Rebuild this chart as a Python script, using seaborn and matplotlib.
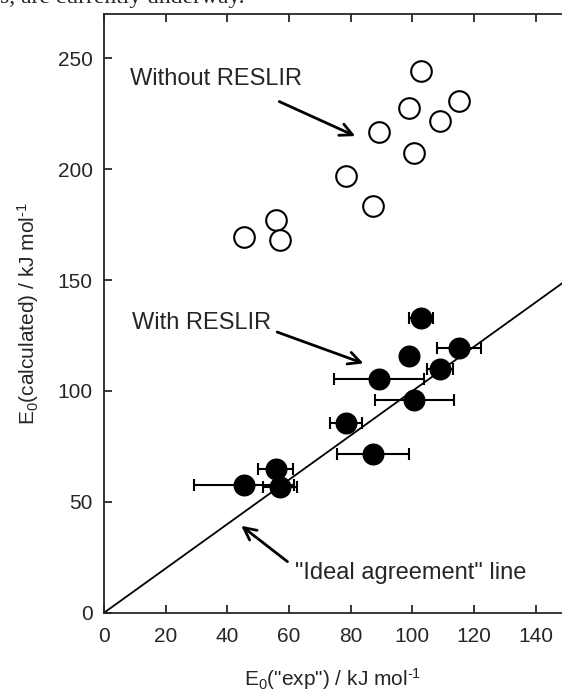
import numpy as np
import pandas as pd
import matplotlib.pyplot as plt
import seaborn as sns

# experimental E0 values (shared by both series)
e0_exp = [45.3, 55.7, 57.1, 78.5, 87.2, 89.1, 98.8, 100.6, 102.9, 109.0, 115.1]
# calculated without RESLIR
e0_without = [169.4, 176.9, 168.1, 196.9, 183.4, 216.8, 227.6, 207.3, 244.4, 221.6, 230.9]
# calculated with RESLIR
e0_with = [57.8, 65.0, 56.5, 85.4, 71.8, 105.3, 115.8, 95.9, 132.7, 110.1, 119.4]
# error on experimental value
e0_err = [16.2, 5.7, 5.4, 5.1, 11.7, 14.6, 2.0, 12.8, 3.9, 4.3, 7.0]
# ideal agreement line
ideal = [0, 150]

df = pd.DataFrame({"exp": e0_exp, "without": e0_without, "with": e0_with, "err": e0_err})

sns.set_style("ticks")
plt.rcParams["font.family"] = ["Liberation Sans", "DejaVu Sans"]
plt.rcParams["mathtext.default"] = "regular"

fig = plt.figure(figsize=(5.62, 6.94), dpi=100)
ax = fig.add_axes([0.185, 0.117, 0.815, 0.863])

# ideal line
sns.lineplot(x=ideal, y=ideal, color="black", lw=1.3, ax=ax)

# error bars then markers
ax.errorbar(df["exp"], df["with"], xerr=df["err"], fmt="none", ecolor="black",
            elinewidth=1.5, capsize=4, capthick=1.5, zorder=2)
sns.scatterplot(data=df, x="exp", y="with", s=220, color="black", edgecolor="black",
                linewidth=1, ax=ax, zorder=3)
sns.scatterplot(data=df, x="exp", y="without", s=220, facecolor="white", edgecolor="black",
                linewidth=1.5, ax=ax, zorder=3)

ax.set_xlim(0, 148.5)
ax.set_ylim(0, 270)
ax.set_xticks(np.arange(0, 141, 20))
ax.set_yticks(np.arange(0, 251, 50))
ax.tick_params(direction="in", length=6, width=1.3, labelsize=15, top=True, right=False)
ax.tick_params(axis="x", pad=10)
ax.tick_params(axis="y", pad=8)
ax.spines["right"].set_visible(False)
for s in ["left", "bottom", "top"]:
    ax.spines[s].set_linewidth(1.3)

ax.set_xlabel('E$_0$("exp") / kJ mol$^{\u2010 1}$', fontsize=15, labelpad=15)
ax.set_ylabel('E$_0$(calculated) / kJ mol$^{\u2010 1}$', fontsize=15, labelpad=12)

arrow = dict(arrowstyle="->", color="black", lw=2, mutation_scale=22)
ax.annotate("", xy=(82.3, 214.4), xytext=(56, 231), arrowprops=arrow)
ax.text(8.6, 240.6, "Without RESLIR", fontsize=17, va="center")
ax.annotate("", xy=(85, 112), xytext=(55.3, 127), arrowprops=arrow)
ax.text(9.0, 130.5, "With RESLIR", fontsize=17, va="center")
ax.annotate("", xy=(43.8, 40), xytext=(60.2, 22.3), arrowprops=arrow)
ax.text(61.8, 18, '"Ideal agreement" line', fontsize=17, va="center")

# fragment of text cut off at the top of the figure
fig.text(0.0, 1.004, "s, are currently underway.", fontsize=17, family="Liberation Serif",
         va="center", ha="left")

plt.savefig("out.png", dpi=100)
